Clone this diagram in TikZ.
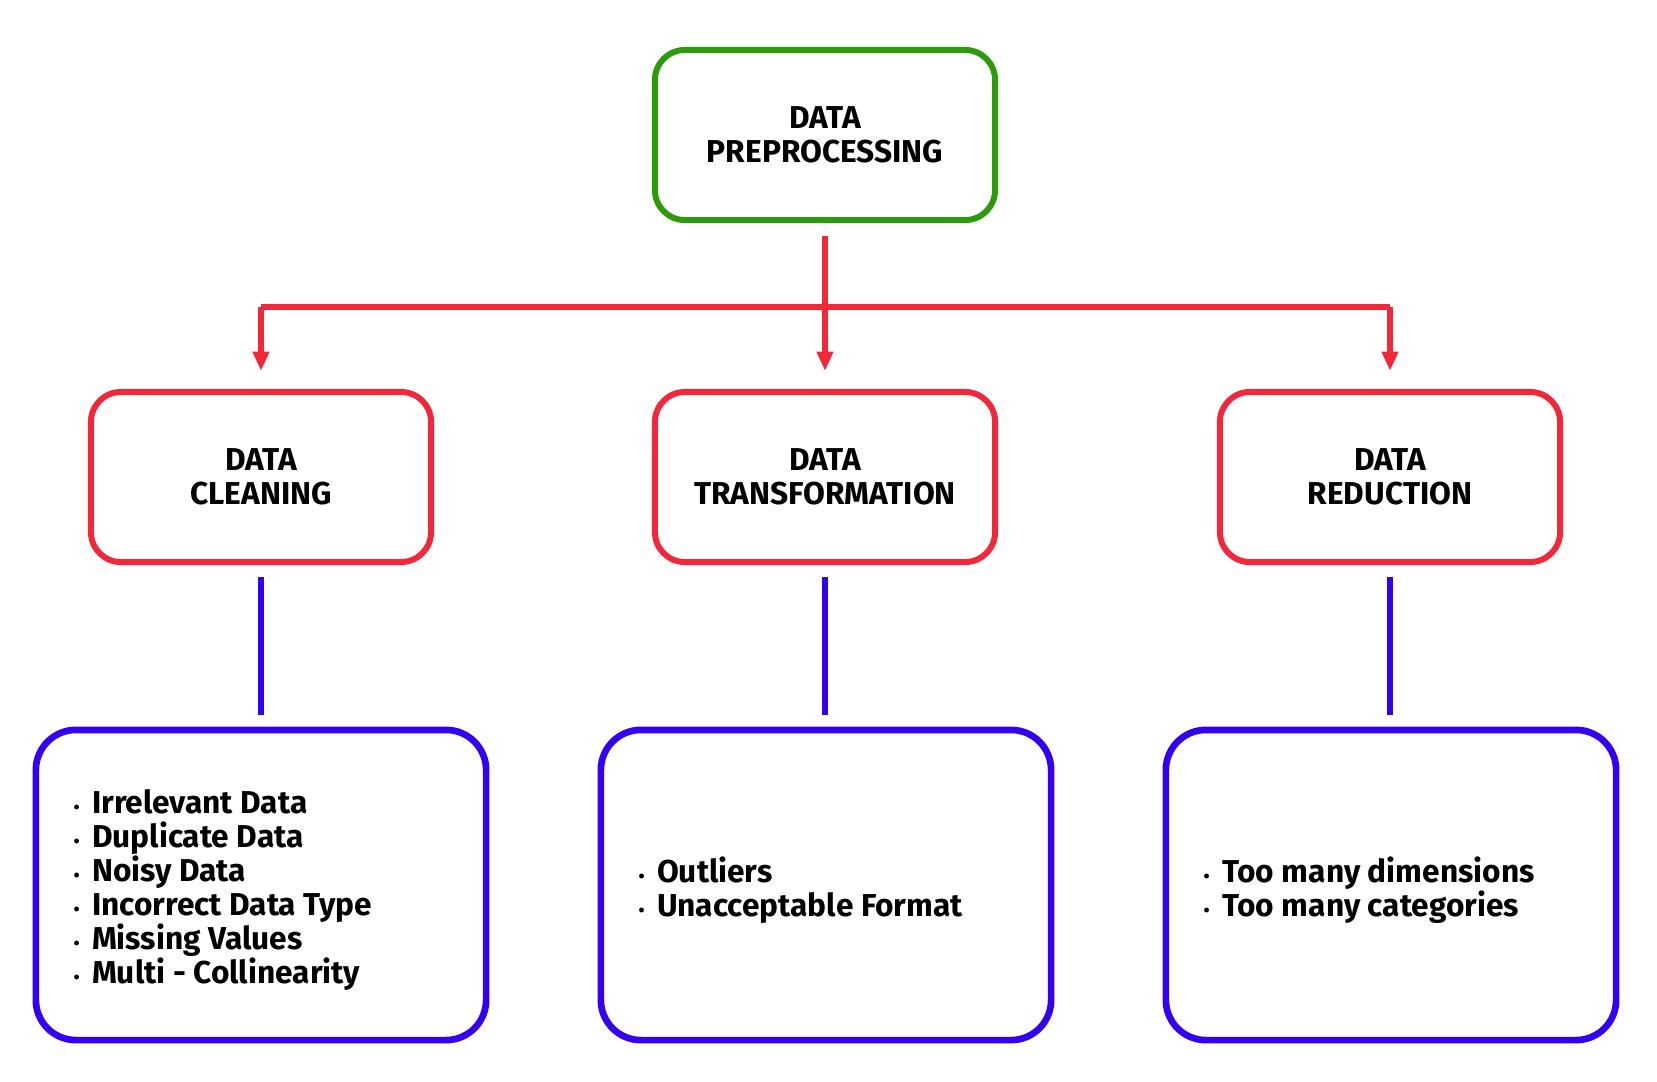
\documentclass[tikz,border=0pt]{standalone}
\usepackage{fontspec}
\setmainfont{Fira Sans}
\usetikzlibrary{arrows.meta}
\definecolor{boxgreen}{RGB}{44,155,10}
\definecolor{boxred}{RGB}{242,40,58}
\definecolor{boxblue}{RGB}{52,0,242}
\tikzset{
  stage/.style={draw=boxred, line width=1.7pt, rounded corners=0.3cm,
    minimum width=3.4cm, minimum height=1.7cm, align=center,
    font=\fontsize{9pt}{9.6pt}\selectfont\bfseries},
  rootbox/.style={stage, draw=boxgreen},
  listbox/.style={draw=boxblue, line width=1.9pt, rounded corners=0.4cm,
    minimum width=4.5cm, minimum height=3.1cm},
  listtext/.style={anchor=west, align=left, inner sep=0pt,
    font=\fontsize{9pt}{9.7pt}\selectfont\bfseries},
  redline/.style={draw=boxred, line width=1.5pt},
  blueline/.style={draw=boxblue, line width=1.5pt, shorten <=0.12cm, shorten >=0.12cm},
  tip/.style={-{Triangle[width=4.5pt,length=5.5pt]}, shorten >=0.18cm}
}
\newcommand{\itm}{{\tiny\textbullet}\hspace{3.5pt}}
\begin{document}
\begin{tikzpicture}[x=0.01cm,y=-0.01cm]
  \useasboundingbox (0,0) rectangle (1657,1082);
  %%%%%%%%%%%%%top and stages%%%%%%%%%%%%%%%%%%%%%%
  \node[rootbox] (prep) at (825,135) {DATA\\PREPROCESSING};
  \node[stage] (clean) at (261,477) {DATA\\CLEANING};
  \node[stage] (trans) at (825,477) {DATA\\TRANSFORMATION};
  \node[stage] (reduc) at (1390,477) {DATA\\REDUCTION};

  %%%%%%%%%%%%%list boxes%%%%%%%%%%%%%%%%%%%%%%
  \node[listbox] (cleanlist) at (261,885) {};
  \node[listbox] (translist) at (826,885) {};
  \node[listbox] (reduclist) at (1391,885) {};

  \node[listtext] (cleanitems) at (73,890) {\itm Irrelevant Data\\\itm Duplicate Data\\\itm Noisy Data\\\itm Incorrect Data Type\\\itm Missing Values\\\itm Multi - Collinearity};
  \node[listtext] (transitems) at (638,890) {\itm Outliers\\\itm Unacceptable Format};
  \node[listtext] (reducitems) at (1203,890) {\itm Too many dimensions\\\itm Too many categories};

  %%%%%%%%%%%%%red connectors%%%%%%%%%%%%%%%%%%%%%%
  \coordinate (jl) at (261,307);
  \coordinate (jr) at (1390,307);
  \draw[redline] (jl) -- (jr);
  \draw[redline, tip, shorten <=0.13cm] (prep.south) -- (trans.north);
  \draw[redline, tip] (jl) -- (clean.north);
  \draw[redline, tip] (jr) -- (reduc.north);

  %%%%%%%%%%%%%blue connectors%%%%%%%%%%%%%%%%%%%%%%
  \draw[blueline] (clean.south) -- (cleanlist.north -| clean.south);
  \draw[blueline] (trans.south) -- (translist.north -| trans.south);
  \draw[blueline] (reduc.south) -- (reduclist.north -| reduc.south);
\end{tikzpicture}
\end{document}
